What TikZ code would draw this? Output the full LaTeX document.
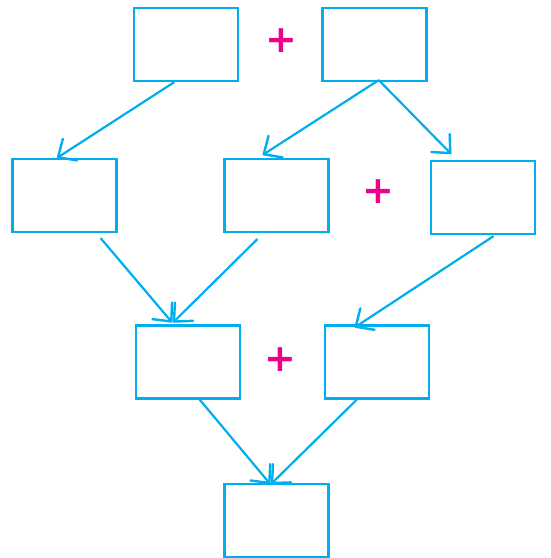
\documentclass[tikz,border=0pt]{standalone}
\usepackage{fontspec}
\newfontfamily\plusfont{DejaVu Sans}
\usetikzlibrary{calc,arrows.meta}
\definecolor{boxcyan}{HTML}{00AEEF}
\definecolor{plusmag}{HTML}{EC008C}
\tikzset{
  box/.style={draw=boxcyan, line width=2.2pt, minimum width=104pt, minimum height=73pt, inner sep=0pt, anchor=center},
  conn/.style={draw=boxcyan, line width=2.2pt, -{Straight Barb[angle=85:19pt,line width=2.4pt,round]}},
  plus/.style={text=plusmag, font=\plusfont\bfseries\fontsize{38}{38}\selectfont, inner sep=0pt}
}
\begin{document}
\begin{tikzpicture}[x=1pt,y=-1pt]
\useasboundingbox (0,0) rectangle (550,558);
\node[box] (A) at (186,44.5) {};
\node[box] (B) at (374.5,44.5) {};
\node[box] (C) at (64.5,195.5) {};
\node[box] (D) at (276.5,195.5) {};
\node[box] (E) at (483,197.5) {};
\node[box] (F) at (188,362) {};
\node[box] (G) at (377,362) {};
\node[box] (H) at (276.5,520.5) {};
\node[plus] (p1) at (281,41) {+};
\node[plus] (p2) at (378,192) {+};
\node[plus] (p3) at (280,360) {+};
\draw[conn] ($(A.south west)!0.39!(A.south east)$) -- ($(C.north west)!0.43!(C.north east)$);
\draw[conn] ($(B.south west)!0.54!(B.south east)+(0,-2)$) -- ($(D.north west)!0.37!(D.north east)+(0,-3)$);
\draw[conn] ($(B.south west)!0.54!(B.south east)+(0,-2)$) -- ($(E.north west)!0.20!(E.north east)+(0,-6)$);
\draw[conn] ($(C.south west)!0.84!(C.south east)+(0,5)$) -- ($(F.north west)!0.35!(F.north east)+(0,-2)$);
\draw[conn] ($(D.south west)!0.32!(D.south east)+(0,6)$) -- ($(F.north west)!0.36!(F.north east)+(0,-2)$);
\draw[conn] ($(E.south west)!0.60!(E.south east)+(0,1)$) -- ($(G.north west)!0.29!(G.north east)+(0,3)$);
\draw[conn] ($(F.south west)!0.61!(F.south east)$) -- ($(H.north west)!0.44!(H.north east)+(0,1)$);
\draw[conn] ($(G.south west)!0.31!(G.south east)$) -- ($(H.north west)!0.45!(H.north east)+(0,1)$);
\end{tikzpicture}
\end{document}
